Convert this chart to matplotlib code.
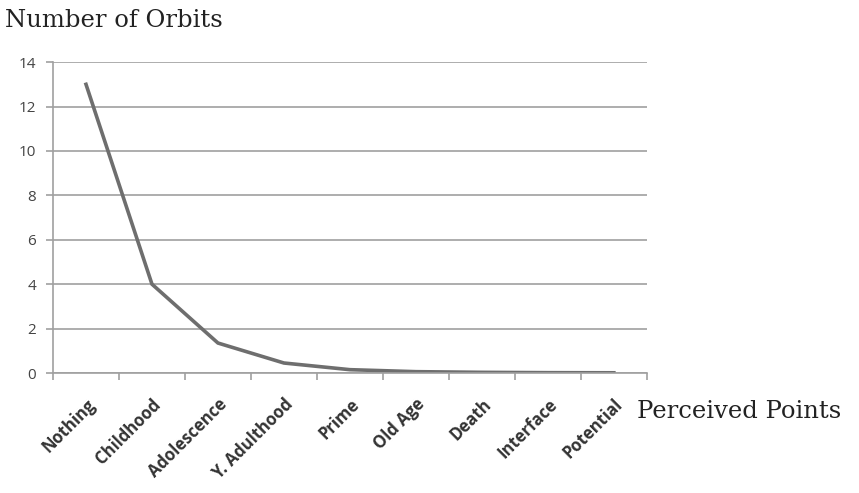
import matplotlib.pyplot as plt
import numpy as np

stages = ['Nothing', 'Childhood', 'Adolescence', 'Y. Adulthood', 'Prime',
          'Old Age', 'Death', 'Interface', 'Potential']
orbits = [13.0, 4.0, 1.35, 0.45, 0.15, 0.06, 0.03, 0.015, 0.01]
yticks = [0, 2, 4, 6, 8, 10, 12, 14]

fig = plt.figure(figsize=(8.59, 4.93), dpi=100)
ax = fig.add_axes([0.0617, 0.2434, 0.6913, 0.6306])

x = np.arange(len(stages))
ax.plot(x, orbits, color='#6e6e6e', linewidth=2.6, solid_joinstyle='miter')

ax.set_xlim(-0.5, len(stages) - 0.5)
ax.set_ylim(0, 14)
ax.set_yticks(yticks)
ax.yaxis.grid(True, color='#a0a0a0', linewidth=1.2)
ax.set_axisbelow(True)

ax.set_xticks(x)
ax.set_xticks(np.arange(len(stages) + 1) - 0.5, minor=True)
ax.set_xticklabels(stages, rotation=45, ha='right', rotation_mode='anchor',
                   fontsize=12, family='Open Sans', fontweight='bold',
                   color='#333333')
ax.tick_params(axis='x', which='major', length=0, pad=16)
ax.tick_params(axis='x', which='minor', length=5, color='#a0a0a0', width=1.2)
ax.tick_params(axis='y', length=5, color='#a0a0a0', width=1.2, labelsize=11,
               labelcolor='#444444', pad=7)
for lab in ax.get_yticklabels():
    lab.set_family('Open Sans')

for s in ['top', 'right']:
    ax.spines[s].set_visible(False)
for s in ['left', 'bottom']:
    ax.spines[s].set_color('#a0a0a0')
    ax.spines[s].set_linewidth(1.2)

fig.text(0.006, 0.958, 'Number of Orbits', family='DejaVu Serif',
         fontsize=17.5, color='#222222', va='center')
fig.text(0.742, 0.166, 'Perceived Points', family='DejaVu Serif',
         fontsize=17.5, color='#222222', va='center')

fig.savefig('out.png', dpi=100)
